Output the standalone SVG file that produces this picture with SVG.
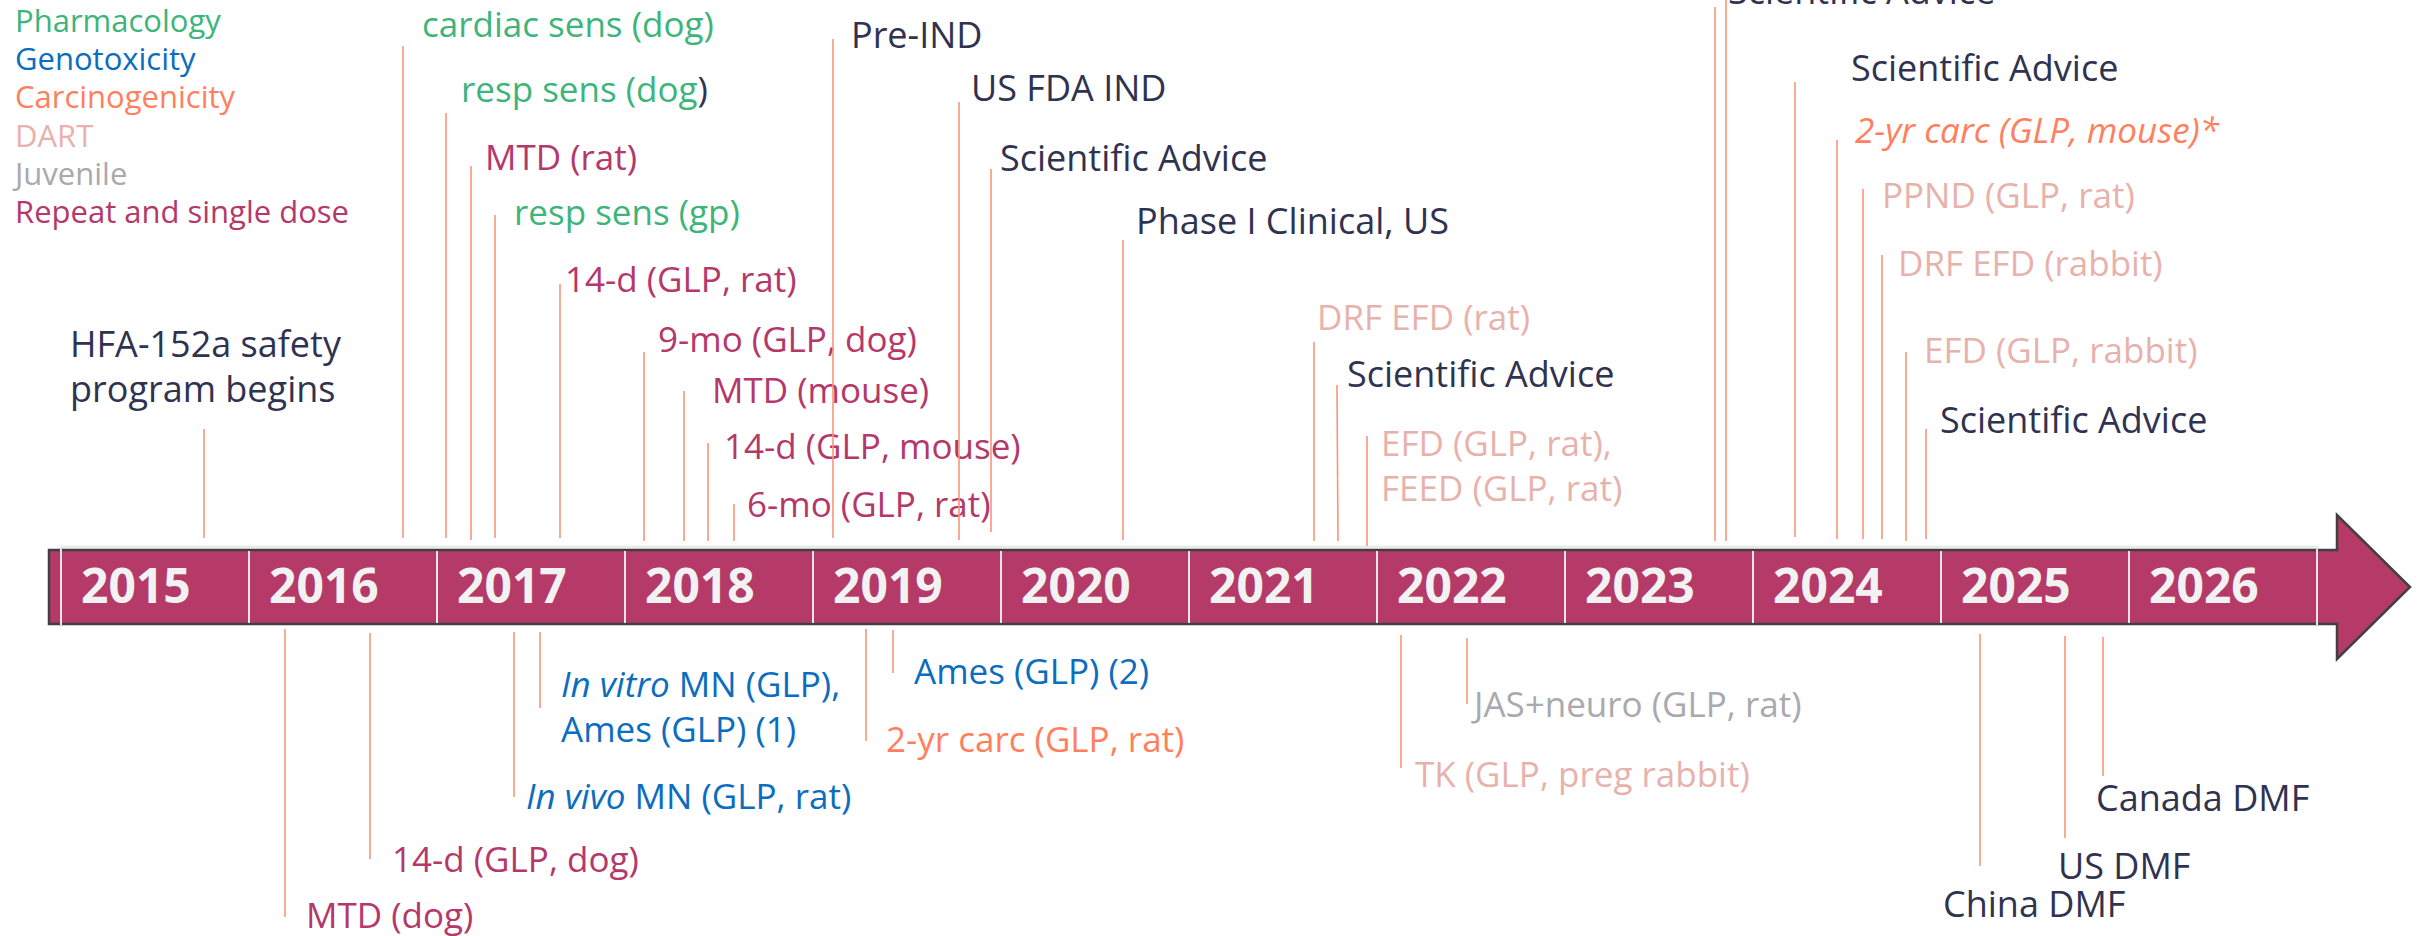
<svg xmlns="http://www.w3.org/2000/svg" width="2419" height="936" viewBox="0 0 2419 936">
<style>
text{font-family:"Open Sans","Noto Sans","Liberation Sans",sans-serif;font-size:35px}
.lg{font-size:31px}
.ph{fill:#3DB57A}.ge{fill:#0B6DC0}.ca{fill:#FF7F5E}.da{fill:#E8B2AC}.ju{fill:#A9A9AE}.rp{fill:#B5386A}
.nv{fill:#2F3350;font-size:36px;font-weight:500}
.yr{fill:#F2F2F2;font-size:48px;font-weight:700}
.cn line{stroke:#F8957A;stroke-width:1.6}
.div{stroke:#E6E6E6;stroke-width:2}
</style>
<rect width="2419" height="936" fill="#FFFFFF"/>
<g id="legend">
<text class="lg ph" x="15" y="32">Pharmacology</text>
<text class="lg ge" x="15" y="70">Genotoxicity</text>
<text class="lg ca" x="15" y="108">Carcinogenicity</text>
<text class="lg da" x="15" y="147">DART</text>
<text class="lg ju" x="15" y="185">Juvenile</text>
<text class="lg rp" x="15" y="223">Repeat and single dose</text>
</g>
<g id="timeline">
<line x1="61" y1="547" x2="2318" y2="547" stroke="#EBEBEB" stroke-width="3"/>
<polygon points="49,550 2337,550 2337,515 2410,587 2337,659 2337,624 49,624" fill="#B53A67" stroke="#404040" stroke-width="2.5" stroke-linejoin="miter"/>
<g class="div">
<line x1="61" y1="549" x2="61" y2="625"/><line x1="249" y1="551" x2="249" y2="623"/><line x1="437" y1="551" x2="437" y2="623"/><line x1="625" y1="551" x2="625" y2="623"/><line x1="813" y1="551" x2="813" y2="623"/><line x1="1001" y1="551" x2="1001" y2="623"/><line x1="1189" y1="551" x2="1189" y2="623"/><line x1="1377" y1="551" x2="1377" y2="623"/><line x1="1565" y1="551" x2="1565" y2="623"/><line x1="1753" y1="551" x2="1753" y2="623"/><line x1="1941" y1="551" x2="1941" y2="623"/><line x1="2129" y1="551" x2="2129" y2="623"/><line x1="2317" y1="549" x2="2317" y2="625"/>
</g>
<text class="yr" x="81" y="603">2015</text><text class="yr" x="269" y="603">2016</text><text class="yr" x="457" y="603">2017</text><text class="yr" x="645" y="603">2018</text><text class="yr" x="833" y="603">2019</text><text class="yr" x="1021" y="603">2020</text><text class="yr" x="1209" y="603">2021</text><text class="yr" x="1397" y="603">2022</text><text class="yr" x="1585" y="603">2023</text><text class="yr" x="1773" y="603">2024</text><text class="yr" x="1961" y="603">2025</text><text class="yr" x="2149" y="603">2026</text>
</g>
<g id="n-hfa"><text class="nv" x="70" y="357">HFA-152a safety</text><text class="nv" x="70" y="402">program begins</text></g>
<g id="n-cardiac"><text class="ph" x="422" y="37">cardiac sens (dog)</text></g>
<g id="n-respdog"><text class="ph" x="461" y="102">resp sens (dog<tspan fill="#2F3350">)</tspan></text></g>
<g id="n-mtdrat"><text class="rp" x="485" y="170">MTD (rat)</text></g>
<g id="n-respgp"><text class="ph" x="514" y="225">resp sens (gp)</text></g>
<g id="n-14drat"><text class="rp" x="565" y="292">14-d (GLP, rat)</text></g>
<g id="n-9mo"><text class="rp" x="658" y="352">9-mo (GLP, dog)</text></g>
<g id="n-mtdmouse"><text class="rp" x="712" y="403">MTD (mouse)</text></g>
<g id="n-14dmouse"><text class="rp" x="724" y="459">14-d (GLP, mouse)</text></g>
<g id="n-6mo"><text class="rp" x="747" y="517">6-mo (GLP, rat)</text></g>
<g id="n-preind"><text class="nv" x="851" y="48">Pre-IND</text></g>
<g id="n-ind"><text class="nv" x="971" y="101">US FDA IND</text></g>
<g id="n-sa1"><text class="nv" x="1000" y="171">Scientific Advice</text></g>
<g id="n-phase1"><text class="nv" x="1136" y="234">Phase I Clinical, US</text></g>
<g id="n-drfrat"><text class="da" x="1317" y="330">DRF EFD (rat)</text></g>
<g id="n-sa2"><text class="nv" x="1347" y="387">Scientific Advice</text></g>
<g id="n-efdrat"><text class="da" x="1381" y="456">EFD (GLP, rat),</text><text class="da" x="1381" y="501">FEED (GLP, rat)</text></g>
<g id="n-sa3"><text class="nv" x="1728" y="4">Scientific Advice</text></g>
<g id="n-sa4"><text class="nv" x="1851" y="81">Scientific Advice</text></g>
<g id="n-carcmouse"><text class="ca" x="1855" y="143" font-style="italic" font-size="36">2-yr carc (GLP, mouse)*</text></g>
<g id="n-ppnd"><text class="da" x="1882" y="208">PPND (GLP, rat)</text></g>
<g id="n-drfrabbit"><text class="da" x="1898" y="276">DRF EFD (rabbit)</text></g>
<g id="n-efdrabbit"><text class="da" x="1924" y="363">EFD (GLP, rabbit)</text></g>
<g id="n-sa5"><text class="nv" x="1940" y="433">Scientific Advice</text></g>
<g id="n-mtddog"><text class="rp" x="306" y="928">MTD (dog)</text></g>
<g id="n-14ddog"><text class="rp" x="392" y="872">14-d (GLP, dog)</text></g>
<g id="n-invitro"><text class="ge" x="561" y="697"><tspan font-style="italic">In vitro</tspan> MN (GLP),</text><text class="ge" x="561" y="742">Ames (GLP) (1)</text></g>
<g id="n-invivo"><text class="ge" x="526" y="809"><tspan font-style="italic">In vivo</tspan> MN (GLP, rat)</text></g>
<g id="n-ames2"><text class="ge" x="914" y="684">Ames (GLP) (2)</text></g>
<g id="n-carcrat"><text class="ca" x="886" y="752">2-yr carc (GLP, rat)</text></g>
<g id="n-tk"><text class="da" x="1415" y="787">TK (GLP, preg rabbit)</text></g>
<g id="n-jas"><text class="ju" x="1474" y="717">JAS+neuro (GLP, rat)</text></g>
<g id="n-china"><text class="nv" x="1943" y="917">China DMF</text></g>
<g id="n-us"><text class="nv" x="2058" y="879">US DMF</text></g>
<g id="n-canada"><text class="nv" x="2096" y="811">Canada DMF</text></g>
<g id="connectors" class="cn">
<line x1="204" y1="429" x2="204" y2="538"/>
<line x1="403" y1="46" x2="403" y2="538"/>
<line x1="446" y1="113" x2="446" y2="538"/>
<line x1="471" y1="166" x2="471" y2="540"/>
<line x1="495" y1="215" x2="495" y2="538"/>
<line x1="560" y1="284" x2="560" y2="538"/>
<line x1="644" y1="352" x2="644" y2="541"/>
<line x1="684" y1="391" x2="684" y2="541"/>
<line x1="708" y1="443" x2="708" y2="541"/>
<line x1="734" y1="504" x2="734" y2="541"/>
<line x1="833" y1="39" x2="833" y2="538"/>
<line x1="959" y1="102" x2="959" y2="540"/>
<line x1="991" y1="169" x2="991" y2="532"/>
<line x1="1123" y1="240" x2="1123" y2="540"/>
<line x1="1314" y1="342" x2="1314" y2="541"/>
<line x1="1337" y1="385" x2="1338" y2="541"/>
<line x1="1367" y1="436" x2="1367" y2="546"/>
<line x1="1715" y1="7" x2="1715" y2="541"/>
<line x1="1726" y1="0" x2="1726" y2="541"/>
<line x1="1795" y1="82" x2="1795" y2="537"/>
<line x1="1837" y1="140" x2="1837" y2="539"/>
<line x1="1863" y1="189" x2="1863" y2="539"/>
<line x1="1882" y1="255" x2="1882" y2="539"/>
<line x1="1906" y1="352" x2="1906" y2="541"/>
<line x1="1926" y1="429" x2="1926" y2="539"/>
<line x1="285" y1="629" x2="285" y2="917"/>
<line x1="370" y1="633" x2="370" y2="859"/>
<line x1="540" y1="632" x2="540" y2="708"/>
<line x1="514" y1="632" x2="514" y2="797"/>
<line x1="893" y1="630" x2="893" y2="673"/>
<line x1="866" y1="629" x2="866" y2="741"/>
<line x1="1401" y1="635" x2="1401" y2="768"/>
<line x1="1467" y1="638" x2="1467" y2="704"/>
<line x1="1980" y1="634" x2="1980" y2="866"/>
<line x1="2065" y1="636" x2="2065" y2="838"/>
<line x1="2103" y1="637" x2="2103" y2="776"/>
</g>
</svg>
